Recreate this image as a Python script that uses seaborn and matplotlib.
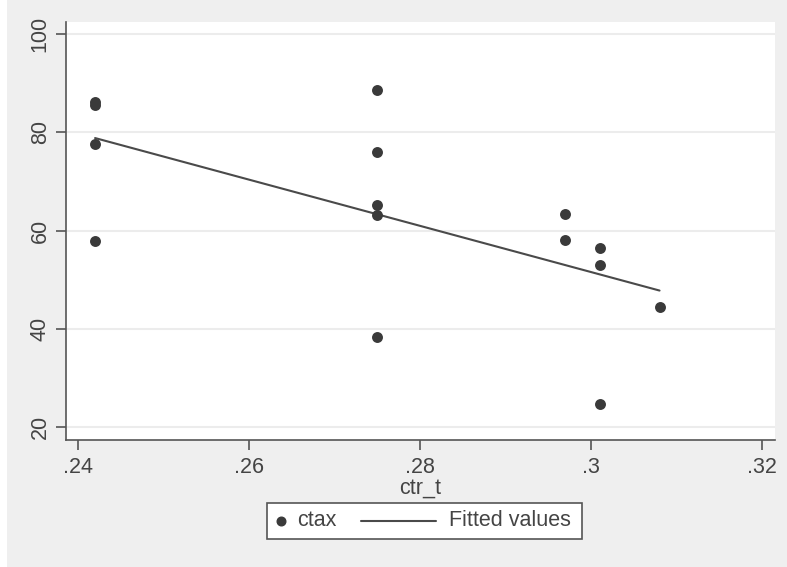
import numpy as np
import pandas as pd
import matplotlib
matplotlib.use("Agg")
import matplotlib.pyplot as plt
import seaborn as sns
from matplotlib.lines import Line2D
from matplotlib.patches import Rectangle

# Data
ctr_t = [0.242, 0.242, 0.242, 0.242,
         0.275, 0.275, 0.275, 0.275, 0.275,
         0.297, 0.297,
         0.301, 0.301, 0.301,
         0.308]
ctax = [86.2, 85.6, 77.7, 57.9,
        88.5, 75.9, 65.2, 63.1, 38.4,
        63.4, 58.1,
        56.5, 53.1, 24.8,
        44.5]
x_ticks = [0.24, 0.26, 0.28, 0.30, 0.32]
x_tick_labels = [".24", ".26", ".28", ".3", ".32"]
y_ticks = [20, 40, 60, 80, 100]
y_tick_labels = ["20", "40", "60", "80", "100"]
legend_labels = ["ctax", "Fitted values"]

df = pd.DataFrame({"ctr_t": ctr_t, "ctax": ctax})

sns.set_theme(style="white")
plt.rcParams['font.family'] = ['Liberation Sans', 'DejaVu Sans']

W, H = 787, 567
fig = plt.figure(figsize=(W / 100, H / 100), dpi=100, facecolor="white")
bg = Rectangle((7 / W, 0), 1 - 7 / W, 1, transform=fig.transFigure,
               facecolor="#efefef", edgecolor="none", zorder=-10)
fig.add_artist(bg)

ax = fig.add_axes([66 / W, 1 - 440 / H, (775 - 66) / W, (440 - 22) / H])
ax.set_facecolor("white")

dark = "#3a3a3a"
linec = "#4a4a4a"
txtc = "#444444"
sns.regplot(data=df, x="ctr_t", y="ctax", scatter=False, ci=None, truncate=True,
            line_kws=dict(color=linec, lw=1.5), ax=ax)
sns.scatterplot(data=df, x="ctr_t", y="ctax", color=dark, s=62, edgecolor=dark,
                linewidth=0, ax=ax, zorder=3)

ax.set_xlim(0.2386, 0.3215)
ax.set_ylim(17.44, 102.4)

ax.set_yticks(y_ticks)
ax.set_yticklabels(y_tick_labels, rotation=90, va="center")
ax.set_xticks(x_ticks)
ax.set_xticklabels(x_tick_labels)

for v in y_ticks:
    ax.axhline(v, color="#ececec", lw=1.5, zorder=0)

for s in ["top", "right"]:
    ax.spines[s].set_visible(False)
for s in ["left", "bottom"]:
    ax.spines[s].set_color("#555555")
    ax.spines[s].set_linewidth(1.2)

ax.tick_params(axis="both", which="major", direction="out", length=7, width=1.2,
               color="#555555", labelsize=15.5, labelcolor=txtc,
               left=True, bottom=True)
ax.tick_params(axis="x", pad=5)
ax.tick_params(axis="y", pad=4)
ax.set_ylabel("")
ax.set_xlabel("ctr_t", fontsize=15.5, color=txtc, labelpad=0)

# Legend box drawn in figure pixel coordinates (Stata-style layout)
def fx(px):
    return px / W

def fy(py):
    return 1 - py / H

fig.add_artist(Rectangle((fx(267), fy(539)), fx(582) - fx(267), fy(503) - fy(539),
                         transform=fig.transFigure, facecolor="white",
                         edgecolor="#555555", lw=1.2, zorder=5))
yc = 521
fig.add_artist(Line2D([fx(281)], [fy(yc)], marker="o", markersize=6.2, color=dark,
                      linestyle="none", transform=fig.transFigure, zorder=6))
fig.text(fx(297), fy(yc), legend_labels[0], fontsize=15.5, color=txtc,
         va="center", ha="left", zorder=6)
fig.add_artist(Line2D([fx(361), fx(436)], [fy(yc), fy(yc)], color=linec, lw=1.5,
                      transform=fig.transFigure, zorder=6))
fig.text(fx(449), fy(yc), legend_labels[1], fontsize=15.5, color=txtc,
         va="center", ha="left", zorder=6)

fig.savefig("out.png", dpi=100, facecolor="white")
